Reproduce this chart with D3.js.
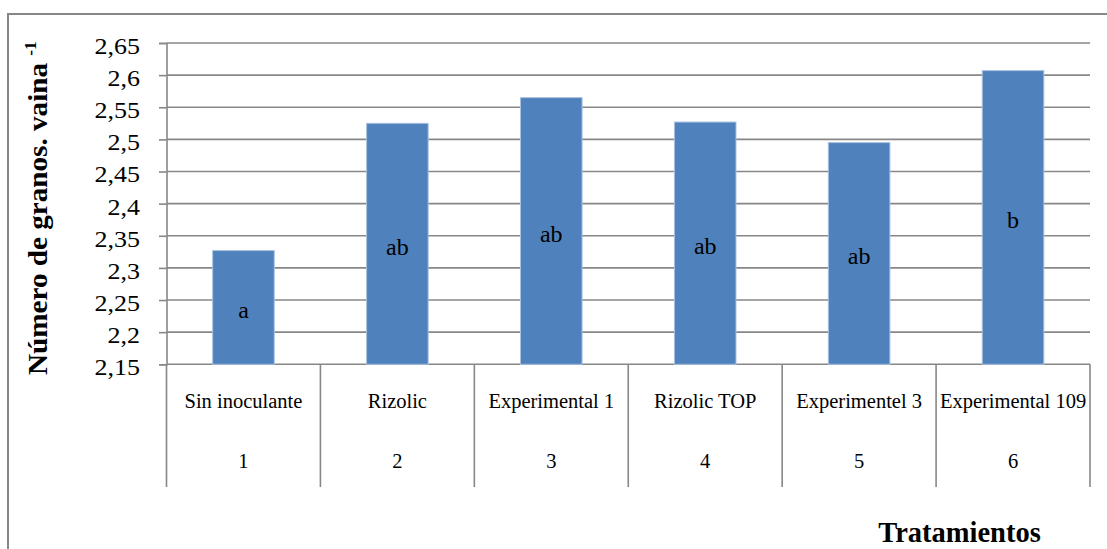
<!DOCTYPE html>
<html>
<head>
<meta charset="utf-8">
<script src="https://cdn.jsdelivr.net/npm/d3@7"></script>
<style>
  html, body { margin: 0; padding: 0; background: #ffffff; }
  svg { display: block; }
</style>
</head>
<body>
<script>
// Treatments, their ordinal numbers, mean grains per pod and significance letters
const treatments = ["Sin inoculante", "Rizolic", "Experimental 1", "Rizolic TOP", "Experimentel 3", "Experimental 109"];
const treatmentNumbers = ["1", "2", "3", "4", "5", "6"];
const grainsPerPod = [2.327, 2.525, 2.565, 2.527, 2.495, 2.607];
const letters = ["a", "ab", "ab", "ab", "ab", "b"];
const yTickValues = [2.15, 2.2, 2.25, 2.3, 2.35, 2.4, 2.45, 2.5, 2.55, 2.6, 2.65];
const yTickLabels = ["2,15", "2,2", "2,25", "2,3", "2,35", "2,4", "2,45", "2,5", "2,55", "2,6", "2,65"];

const W = 1107, H = 549;
const plot = { left: 166.5, right: 1090, top: 43, bottom: 364.3 };
const gridColor = "#878787";
const barColor = "#4f81bd";
const serif = "'Liberation Serif', 'Times New Roman', Times, 'DejaVu Serif', serif";

const svg = d3.select("body").append("svg")
  .attr("width", W).attr("height", H)
  .style("font-family", serif);

svg.append("rect").attr("width", W).attr("height", H).attr("fill", "#fff");

// Outer chart frame (top and left edges visible)
svg.append("path")
  .attr("d", `M8,${H} L8,14 L${W},14`)
  .attr("fill", "none")
  .attr("stroke", gridColor)
  .attr("stroke-width", 2);

const y = d3.scaleLinear().domain([2.15, 2.65]).range([plot.bottom, plot.top]);

// Category bands (table-like axis) and bar placement
const xBand = d3.scaleBand().domain(treatmentNumbers).range([plot.left, plot.right]).padding(0);
const xBar = d3.scaleBand().domain(treatmentNumbers).range([plot.left, plot.right])
  .paddingInner(0.6).paddingOuter(0.3);

// Horizontal gridlines
svg.append("g").selectAll("line")
  .data(yTickValues)
  .join("line")
  .attr("x1", plot.left).attr("x2", plot.right)
  .attr("y1", d => y(d)).attr("y2", d => y(d))
  .attr("stroke", gridColor).attr("stroke-width", 1.6);

// Y axis with ticks and comma decimal labels
const yAxis = d3.axisLeft(y)
  .tickValues(yTickValues)
  .tickSize(7.5)
  .tickFormat((d, i) => yTickLabels[i]);

const yAxisG = svg.append("g")
  .attr("transform", `translate(${plot.left},0)`)
  .call(yAxis)
  .attr("font-family", null)
  .attr("font-size", null);
yAxisG.select(".domain").attr("stroke", gridColor).attr("stroke-width", 1.6);
yAxisG.selectAll(".tick line").attr("stroke", gridColor).attr("stroke-width", 1.6);
yAxisG.selectAll(".tick text")
  .style("font-family", serif)
  .style("font-size", "23px")
  .attr("fill", "#000")
  .attr("text-anchor", "end")
  .attr("x", -26.5 / 1.13)
  .attr("dy", "0.45em")
  .attr("transform", "scale(1.13,1)");

// Bars
svg.append("g").selectAll("rect")
  .data(grainsPerPod)
  .join("rect")
  .attr("x", (d, i) => xBar(treatmentNumbers[i]))
  .attr("width", xBar.bandwidth())
  .attr("y", d => y(d))
  .attr("height", d => y(2.15) - y(d))
  .attr("fill", barColor)
  .attr("stroke", "#a9c1e0")
  .attr("stroke-width", 1);

// Significance letters centred inside bars
svg.append("g").selectAll("text")
  .data(grainsPerPod)
  .join("text")
  .attr("x", (d, i) => xBar(treatmentNumbers[i]) + xBar.bandwidth() / 2)
  .attr("y", d => (y(d) + y(2.15)) / 2 + 11)
  .attr("text-anchor", "middle")
  .style("font-family", serif)
  .style("font-size", "24px")
  .attr("fill", "#000")
  .text((d, i) => letters[i]);

// Category separators below the plot
const bounds = treatmentNumbers.map(n => xBand(n)).concat([plot.right]);
svg.append("g").selectAll("line")
  .data(bounds)
  .join("line")
  .attr("x1", d => d).attr("x2", d => d)
  .attr("y1", plot.bottom).attr("y2", 487)
  .attr("stroke", gridColor).attr("stroke-width", 1.6);

// Treatment names and numbers
const catG = svg.append("g");
catG.selectAll("text.name")
  .data(treatments)
  .join("text")
  .attr("class", "name")
  .attr("x", (d, i) => xBand(treatmentNumbers[i]) + xBand.bandwidth() / 2)
  .attr("y", 408)
  .attr("text-anchor", "middle")
  .style("font-family", serif)
  .style("font-size", "20.5px")
  .attr("fill", "#000")
  .text(d => d);
catG.selectAll("text.num")
  .data(treatmentNumbers)
  .join("text")
  .attr("class", "num")
  .attr("x", d => xBand(d) + xBand.bandwidth() / 2)
  .attr("y", 468)
  .attr("text-anchor", "middle")
  .style("font-family", serif)
  .style("font-size", "20.5px")
  .attr("fill", "#000")
  .text(d => d);

// Y axis title with superscript
const yTitle = svg.append("text")
  .attr("transform", "translate(47,375) rotate(-90) scale(1.08,1)")
  .attr("text-anchor", "start")
  .style("font-family", serif)
  .style("font-size", "27px")
  .style("font-weight", "bold")
  .attr("fill", "#000");
yTitle.append("tspan").text("Número de granos. vaina ");
yTitle.append("tspan").style("font-size", "16px").attr("dy", -11).text("-1");

// X axis title
svg.append("text")
  .attr("x", 959.5)
  .attr("y", 542)
  .attr("text-anchor", "middle")
  .style("font-family", serif)
  .style("font-size", "28.5px")
  .style("font-weight", "bold")
  .attr("fill", "#000")
  .text("Tratamientos");
</script>
</body>
</html>
